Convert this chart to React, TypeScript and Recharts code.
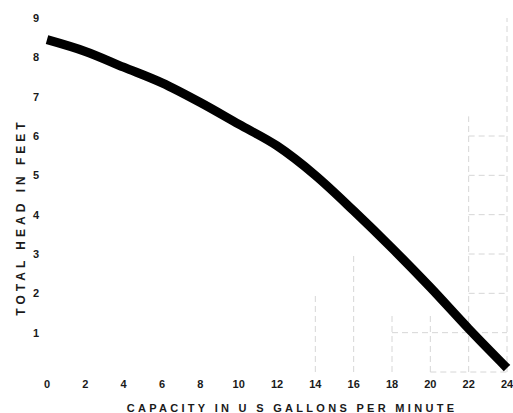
import { Label, Line, LineChart, ReferenceLine, XAxis, YAxis } from "recharts";

const capacityGpm = [0, 2, 4, 6, 8, 10, 12, 14, 16, 18, 20, 22, 24];
const headFeet = [8.45, 8.15, 7.75, 7.35, 6.85, 6.3, 5.75, 5.0, 4.1, 3.15, 2.15, 1.1, 0.1];
const xTicks = [0, 2, 4, 6, 8, 10, 12, 14, 16, 18, 20, 22, 24];
const yTicks = [1, 2, 3, 4, 5, 6, 7, 8, 9];

// faint leftover grid in the lower right of the scan
const gridVertical = [
  { x: 14, from: 0, to: 2 },
  { x: 16, from: 0, to: 3 },
  { x: 18, from: 0, to: 1.5 },
  { x: 20, from: 0, to: 1.5 },
  { x: 22, from: 0, to: 6.5 },
  { x: 24, from: 0, to: 9 },
];
const gridHorizontal = [
  { y: 0, from: 20, to: 24 },
  { y: 1, from: 18, to: 24 },
  { y: 2, from: 22, to: 24 },
  { y: 3, from: 22, to: 24 },
  { y: 4, from: 22, to: 24 },
  { y: 5, from: 22, to: 24 },
  { y: 6, from: 22, to: 24 },
];

const data = capacityGpm.map((gpm, i) => ({ gpm, head: headFeet[i] }));

const tickStyle = { fill: "#1a1a1a", fontSize: 11, fontWeight: 700, fontFamily: "Liberation Sans, Arial, sans-serif" };
const gridStroke = "#d6d6d6";

export default function App() {
  return (
    <div style={{ position: "absolute", top: 0, left: 0, width: 513, height: 413, background: "#fff" }}>
      <LineChart width={513} height={413} data={data} margin={{ top: 18, right: 6, bottom: 0, left: 0 }}>
        <XAxis
          dataKey="gpm"
          type="number"
          domain={[0, 24]}
          ticks={xTicks}
          axisLine={false}
          tickLine={false}
          height={41}
          tick={tickStyle}
          interval={0}
        >
          <Label
            value="CAPACITY IN U S GALLONS PER MINUTE"
            position="insideBottom"
            offset={1}
            dx={15}
            style={{ ...tickStyle, fontSize: 11, letterSpacing: 3.3 }}
          />
        </XAxis>
        <YAxis
          type="number"
          domain={[0, 9]}
          ticks={yTicks}
          axisLine={false}
          tickLine={false}
          width={47}
          tick={tickStyle}
          interval={0}
        >
          <Label
            value="TOTAL HEAD IN FEET"
            angle={-90}
            position="center"
            dx={-3}
            dy={22}
            style={{ ...tickStyle, fontSize: 12, letterSpacing: 4 }}
          />
        </YAxis>
        {gridVertical.map((g) => (
          <ReferenceLine
            key={`v${g.x}`}
            segment={[
              { x: g.x, y: g.from },
              { x: g.x, y: g.to },
            ]}
            stroke={gridStroke}
            strokeDasharray="6 4"
          />
        ))}
        {gridHorizontal.map((g) => (
          <ReferenceLine
            key={`h${g.y}`}
            segment={[
              { x: g.from, y: g.y },
              { x: g.to, y: g.y },
            ]}
            stroke={gridStroke}
            strokeDasharray="6 4"
          />
        ))}
        <Line
          dataKey="head"
          type="monotone"
          stroke="#000"
          strokeWidth={9}
          dot={false}
          isAnimationActive={false}
        />
      </LineChart>
    </div>
  );
}
